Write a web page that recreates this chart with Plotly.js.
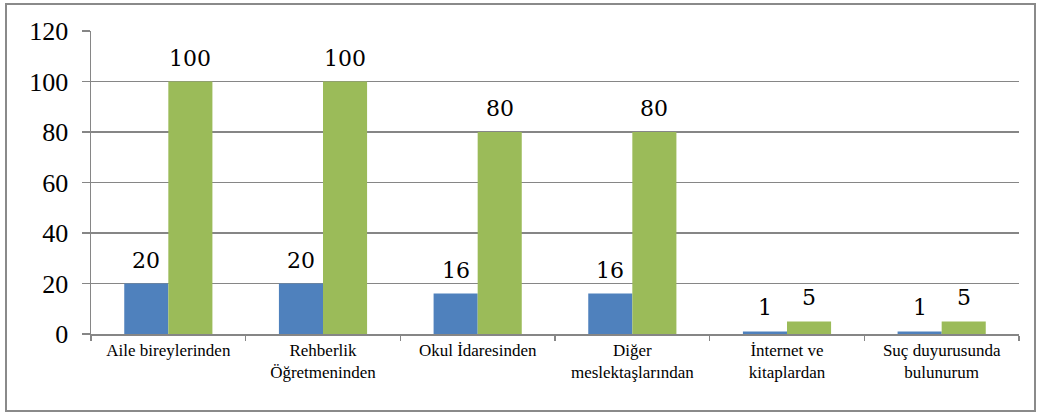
<!DOCTYPE html>
<html><head><meta charset="utf-8">
<script src="https://cdn.plot.ly/plotly-3.0.1.min.js"></script>
<style>
html,body{margin:0;padding:0;background:#fff;}
#frame{position:absolute;left:5px;top:3px;width:1027px;height:405px;border:2px solid #8a8a8a;pointer-events:none;}
</style></head>
<body>
<div id="chart" style="width:1039px;height:415px"></div>
<div id="frame"></div>
<script>
const categories = ["Aile bireylerinden", "Rehberlik<br>Öğretmeninden", "Okul İdaresinden", "Diğer<br>meslektaşlarından", "İnternet ve<br>kitaplardan", "Suç duyurusunda<br>bulunurum"];
const seriesA = [20, 20, 16, 16, 1, 1];
const seriesB = [100, 100, 80, 80, 5, 5];
const yTicks = [0, 20, 40, 60, 80, 100, 120];

const traces = [
  {type:'bar', x:categories, y:seriesA, marker:{color:'#4F81BD'}, name:'A'},
  {type:'bar', x:categories, y:seriesB, marker:{color:'#9BBB59'}, name:'B'}
];
const ann = [];
categories.forEach((c,i)=>{
  ann.push({x:c, y:seriesA[i], text:String(seriesA[i]), showarrow:false, xanchor:'center', yanchor:'bottom', xshift:-22, yshift:9, font:{family:'DejaVu Serif', size:22, color:'#000'}});
  ann.push({x:c, y:seriesB[i], text:String(seriesB[i]), showarrow:false, xanchor:'center', yanchor:'bottom', xshift:22, yshift:9, font:{family:'DejaVu Serif', size:22, color:'#000'}});
});
const layout = {
  width:1039, height:415,
  margin:{l:91, r:20, t:31, b:81},
  font:{family:'Liberation Serif', size:17, color:'#000'},
  barmode:'group', bargap:0.43, bargroupgap:0,
  showlegend:false,
  xaxis:{type:'category', tickson:'boundaries', ticks:'outside', ticklen:5, tickcolor:'#868686', tickwidth:1.5,
         showline:true, linecolor:'#868686', linewidth:1.5, showgrid:false},
  yaxis:{range:[0,120], tickvals:yTicks, ticks:'outside', ticklen:8, tickcolor:'#868686', tickwidth:1.5,
         showline:true, linecolor:'#868686', linewidth:1.5, showgrid:true, gridcolor:'#868686', gridwidth:1.5,
         zeroline:false, ticklabelstandoff:8, tickfont:{size:26}},
  annotations:ann
};
Plotly.newPlot('chart', traces, layout, {staticPlot:true});
</script>
</body></html>
